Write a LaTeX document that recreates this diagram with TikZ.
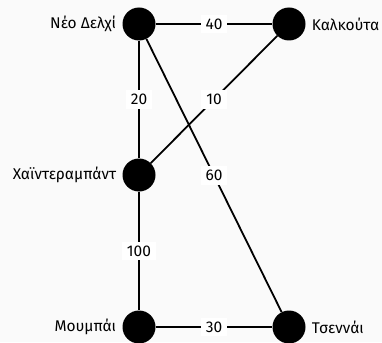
\documentclass[tikz,border=0pt]{standalone}
\usepackage{fontspec}
\setmainfont{Fira Sans}
\definecolor{bgpaper}{RGB}{250,250,250}
\begin{document}
\begin{tikzpicture}[x=1pt,y=-1pt,
  city/.style={circle,fill=black,minimum size=33pt,inner sep=0pt},
  route/.style={line width=1.8pt,black},
  weight/.style={fill=white,inner xsep=5pt,inner ysep=4pt,font=\fontsize{15.5}{18}\selectfont},
  place/.style={font=\fontsize{15.5}{18}\selectfont,inner sep=0pt}]
  \fill[bgpaper] (0,0) rectangle (382,342);
  \useasboundingbox (0,0) rectangle (382,342);

  % cities
  \node[city] (del) at (139,24) {};
  \node[city] (kol) at (289,24) {};
  \node[city] (hyd) at (139,175) {};
  \node[city] (bom) at (139,327) {};
  \node[city] (mad) at (289,327) {};

  % routes with their weights
  \draw[route] (del) -- node[weight] {40} (kol);
  \draw[route] (del) -- node[weight] {20} (hyd);
  \draw[route] (kol) -- node[weight] {10} (hyd);
  \draw[route] (del) -- node[weight] {60} (mad);
  \draw[route] (hyd) -- node[weight] {100} (bom);
  \draw[route] (bom) -- node[weight] {30} (mad);

  % city names
  \node[place,anchor=east] at ([xshift=-6pt]del.west) {Νέο Δελχί};
  \node[place,anchor=west] at ([xshift=6pt]kol.east) {Καλκούτα};
  \node[place,anchor=east] at ([xshift=-6pt]hyd.west) {Χαϊντεραμπάντ};
  \node[place,anchor=east] at ([xshift=-6pt]bom.west) {Μουμπάι};
  \node[place,anchor=west] at ([xshift=6pt]mad.east) {Τσεννάι};
\end{tikzpicture}
\end{document}
